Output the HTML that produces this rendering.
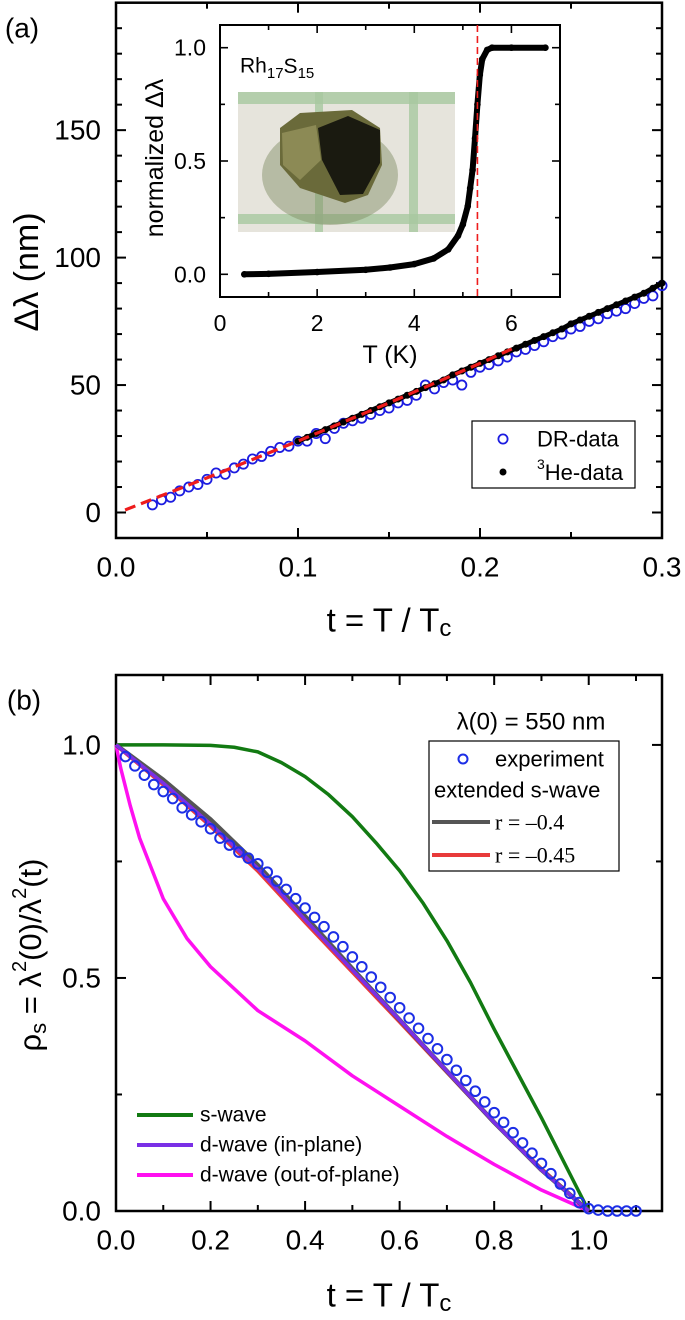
<!DOCTYPE html>
<html><head><meta charset="utf-8"><style>
html,body{margin:0;padding:0;background:#fff}
svg{display:block;font-family:"Liberation Sans",sans-serif}
</style></head><body>
<svg id="fig" width="685" height="1320" viewBox="0 0 685 1320" xmlns="http://www.w3.org/2000/svg">
<g id="pa"></g>
<g id="pb"></g>
</svg>
<script>
// ---------- Panel (a) data ----------
const drT = [0.020,0.025,0.030,0.035,0.040,0.045,0.050,0.055,0.060,0.065,0.070,0.075,0.080,0.085,0.090,0.095,0.100,0.105,0.110,0.115,0.120,0.125,0.130,0.135,0.140,0.145,0.150,0.155,0.160,0.165,0.170,0.175,0.180,0.185,0.190,0.195,0.200,0.205,0.210,0.215,0.220,0.225,0.230,0.235,0.240,0.245,0.250,0.255,0.260,0.265,0.270,0.275,0.280,0.285,0.290,0.295,0.300];
const drVal = [3,5,6,8.5,10,11,13,15.5,15,17.5,19,21,22,24,25.5,26,28,28,31,29,33,35,36,37,38.5,40,41,43,44,46,50,48.5,51,52,50,55,57,58,59.5,61,63,64,65.5,67,69,70,72,73,75,76,78,79,80,82,84,85,89];
const heT = [0.100,0.105,0.110,0.115,0.120,0.125,0.130,0.135,0.140,0.145,0.150,0.155,0.160,0.165,0.170,0.175,0.180,0.185,0.190,0.195,0.200,0.205,0.210,0.215,0.220,0.225,0.230,0.235,0.240,0.245,0.250,0.255,0.260,0.265,0.270,0.275,0.280,0.285,0.290,0.295,0.300];
const heVal = [28,29.5,31,32.5,34,35.5,37,38.5,40,41.5,43,44.5,46,47.5,49,50.5,52,54,55.5,57,58.5,60,61.5,63,64.5,66,67.5,69,70.5,72,74,75.5,77,78.5,80,81.5,83,84.5,86,88,90];
const fitT = [0.005,0.05,0.1,0.15,0.2,0.22];
const fitVal = [1,13.6,28,43,58.5,65];
const aYTicks = [0,50,100,150];
const aXTicks = [0.0,0.1,0.2,0.3];
const aXTickLabels = ["0.0","0.1","0.2","0.3"];
// inset
const insT = [0.5,1,2,3,3.5,4,4.4,4.7,4.9,5.0,5.1,5.15,5.2,5.25,5.3,5.35,5.4,5.5,5.6,6,6.7];
const insVal = [0,0.002,0.01,0.02,0.03,0.045,0.07,0.11,0.17,0.22,0.3,0.38,0.46,0.6,0.75,0.88,0.95,0.99,1,1,1];
const insTc = 5.3;
const insXTicks = [0,2,4,6];
const insYTicks = [0.0,0.5,1.0];
const insYTickLabels = ["0.0","0.5","1.0"];
// ---------- Panel (b) data ----------
const sT = [0,0.1,0.2,0.25,0.3,0.35,0.4,0.45,0.5,0.55,0.6,0.65,0.7,0.75,0.8,0.85,0.9,0.95,1.0];
const sVal = [1,1,0.999,0.995,0.985,0.962,0.932,0.893,0.846,0.79,0.73,0.66,0.58,0.49,0.39,0.295,0.2,0.1,0];
const dT = [0,0.1,0.2,0.3,0.4,0.5,0.6,0.7,0.8,0.9,1.0];
const dInVal = [1,0.918,0.83,0.735,0.625,0.517,0.41,0.30,0.19,0.088,0];
const extGrayVal = [1,0.925,0.84,0.742,0.632,0.52,0.41,0.30,0.19,0.088,0];
const extRedVal = [1,0.915,0.826,0.73,0.62,0.513,0.406,0.298,0.19,0.09,0];
const pT = [0,0.01,0.03,0.05,0.1,0.15,0.2,0.3,0.4,0.5,0.6,0.7,0.8,0.9,1.0];
const pVal = [1,0.95,0.87,0.8,0.67,0.585,0.524,0.43,0.365,0.29,0.225,0.16,0.1,0.045,0];
const expT = [0.02,0.04,0.06,0.08,0.1,0.12,0.14,0.16,0.18,0.2,0.22,0.24,0.26,0.28,0.3,0.32,0.34,0.36,0.38,0.4,0.42,0.44,0.46,0.48,0.5,0.52,0.54,0.56,0.58,0.6,0.62,0.64,0.66,0.68,0.7,0.72,0.74,0.76,0.78,0.8,0.82,0.84,0.86,0.88,0.9,0.92,0.94,0.96,0.98,1.0,1.02,1.04,1.06,1.08,1.1];
const expVal = [0.975,0.955,0.935,0.915,0.9,0.885,0.865,0.85,0.835,0.82,0.8,0.785,0.77,0.757,0.745,0.727,0.708,0.69,0.67,0.65,0.63,0.61,0.588,0.567,0.545,0.524,0.502,0.48,0.458,0.436,0.414,0.392,0.37,0.348,0.325,0.302,0.28,0.257,0.234,0.211,0.19,0.168,0.146,0.124,0.102,0.08,0.058,0.038,0.018,0.005,0.002,0,0,0,0];
const bXTicks = [0,0.2,0.4,0.6,0.8,1.0];
const bXTickLabels = ["0.0","0.2","0.4","0.6","0.8","1.0"];
const bYTicks = [0,0.5,1.0];
const bYTickLabels = ["0.0","0.5","1.0"];

const NS = "http://www.w3.org/2000/svg";
function mk(tag, attrs, parent){const e=document.createElementNS(NS,tag);for(const k in attrs)e.setAttribute(k,attrs[k]);parent.appendChild(e);return e;}
function txt(parent, x, y, s, size, anchor, extra){const t=mk('text',Object.assign({x:x,y:y,'font-size':size,'text-anchor':anchor||'start','dominant-baseline':'central',fill:'#000'},extra||{}),parent);t.textContent=s;return t;}

// ===== Panel A =====
const pa=document.getElementById('pa');
const aL=116,aR=662,aT=2.7,aB=538;
const axX=v=>aL+(v-0)/(0.3-0)*(aR-aL);
const axY=v=>aB-(v-(-10))/(200-(-10))*(aB-aT);
let e;
e=mk('rect',{x:aL,y:aT,width:aR-aL,height:aB-aT,fill:'none',stroke:'#000','stroke-width':2.5},pa);


for(let v=-10;v<=200;v+=10){const major=v%50===0;const len=major?10:6;
 e=mk('line',{x1:aL,x2:aL+len,y1:axY(v),y2:axY(v),stroke:'#000','stroke-width':2},pa);
 
 
 e=mk('line',{x1:aR,x2:aR-len,y1:axY(v),y2:axY(v),stroke:'#000','stroke-width':2},pa);
 
 }
aYTicks.forEach(v=>{e=txt(pa,101,axY(v),String(v),28,'end');
 
 });
for(let i=0;i<=6;i++){const v=i*0.05;const len=i%2===0?10:6;
 e=mk('line',{x1:axX(v),x2:axX(v),y1:aB,y2:aB-len,stroke:'#000','stroke-width':2},pa);
 
 
 e=mk('line',{x1:axX(v),x2:axX(v),y1:aT,y2:aT+len,stroke:'#000','stroke-width':2},pa);
 
 }
aXTicks.forEach((v,i)=>{e=txt(pa,axX(v),567,aXTickLabels[i],28,'middle');
 
 });
e=txt(pa,22,28,'(a)',28,'middle');


e=mk('text',{x:0,y:0,'font-size':34,'text-anchor':'middle','dominant-baseline':'central',transform:'translate(27,272) rotate(-90)'},pa);
e.textContent='Δλ (nm)';


e=mk('text',{x:389,y:620,'font-size':33,'text-anchor':'middle','dominant-baseline':'central'},pa);
e.innerHTML='t = T / T<tspan font-size="24" dy="8">c</tspan>';


drT.forEach((t,i)=>{e=mk('circle',{cx:axX(t),cy:axY(drVal[i]),r:4.6,fill:'none',stroke:'#1c1ce0','stroke-width':1.8},pa);
 
 });
e=mk('polyline',{points:heT.map((t,i)=>axX(t)+','+axY(heVal[i])).join(' '),fill:'none',stroke:'#000','stroke-width':5},pa);


heT.forEach((t,i)=>{e=mk('circle',{cx:axX(t),cy:axY(heVal[i]),r:3.5,fill:'#000'},pa);
 
 });
e=mk('polyline',{points:fitT.map((t,i)=>axX(t)+','+axY(fitVal[i])).join(' '),fill:'none',stroke:'#ee1c1c','stroke-width':3.2,'stroke-dasharray':'11 6'},pa);


e=mk('rect',{x:472,y:421,width:163,height:67,fill:'#fff',stroke:'#000','stroke-width':1.2},pa);


e=mk('circle',{cx:503,cy:439,r:4.6,fill:'none',stroke:'#1c1ce0','stroke-width':1.8},pa);


e=txt(pa,537,439,'DR-data',22,'start');


e=mk('circle',{cx:503,cy:472,r:3.5,fill:'#000'},pa);


e=mk('text',{x:537,y:472,'font-size':22,'dominant-baseline':'central'},pa);
e.innerHTML='<tspan font-size="14" dy="-8">3</tspan><tspan dy="8">He-data</tspan>';



// ----- inset -----
const iL=220,iR=560,iT=25,iB=297;
const ix=v=>iL+v/7*(iR-iL);
const iy=v=>274.3-v*(274.3-47.7);
e=mk('rect',{x:iL,y:iT,width:iR-iL,height:iB-iT,fill:'#fff',stroke:'#000','stroke-width':2},pa);


for(let v=0;v<=7;v+=1){const len=v%2===0?8:5;
 e=mk('line',{x1:ix(v),x2:ix(v),y1:iB,y2:iB-len,stroke:'#000','stroke-width':1.6},pa);
 
 
 e=mk('line',{x1:ix(v),x2:ix(v),y1:iT,y2:iT+len,stroke:'#000','stroke-width':1.6},pa);
 
 }
for(let k=0;k<=4;k++){const v=k*0.25;const len=k%2===0?8:5;
 e=mk('line',{x1:iL,x2:iL+len,y1:iy(v),y2:iy(v),stroke:'#000','stroke-width':1.6},pa);
 
 
 e=mk('line',{x1:iR,x2:iR-len,y1:iy(v),y2:iy(v),stroke:'#000','stroke-width':1.6},pa);
 
 }
insXTicks.forEach(v=>{e=txt(pa,ix(v),323,String(v),23,'middle');
 
 });
insYTicks.forEach((v,i)=>{e=txt(pa,206,iy(v),insYTickLabels[i],23,'end');
 
 });
e=txt(pa,390,355,'T (K)',25,'middle');


e=mk('text',{x:0,y:0,'font-size':25,'text-anchor':'middle','dominant-baseline':'central',transform:'translate(155,158) rotate(-90)'},pa);
e.textContent='normalized Δλ';


e=mk('text',{x:240,y:66,'font-size':21,'dominant-baseline':'central'},pa);
e.innerHTML='Rh<tspan font-size="15" dy="7">17</tspan><tspan dy="-7">S</tspan><tspan font-size="15" dy="7">15</tspan>';


const ph=mk('g',{},pa);


mk('rect',{x:238,y:92,width:217,height:140,fill:'#e6e4dc'},ph);
mk('rect',{x:238,y:92,width:217,height:12,fill:'#a8c8a0',opacity:0.8},ph);
mk('rect',{x:238,y:214,width:217,height:10,fill:'#a8c8a0',opacity:0.8},ph);
mk('rect',{x:315,y:92,width:8,height:140,fill:'#a8c8a0',opacity:0.8},ph);
mk('rect',{x:409,y:92,width:9,height:140,fill:'#a8c8a0',opacity:0.8},ph);
mk('ellipse',{cx:330,cy:175,rx:68,ry:50,fill:'#7d8a60',opacity:0.45},ph);
mk('polygon',{points:'280,128 300,113 352,110 380,128 382,165 368,195 345,203 300,188 280,165',fill:'#6a6a3a'},ph);
mk('polygon',{points:'318,128 348,116 380,130 380,163 363,194 340,195 322,160',fill:'#1a1a10'},ph);
mk('polygon',{points:'282,133 316,125 321,160 300,180 283,165',fill:'#8c8a55'},ph);
e=mk('polyline',{points:insT.map((t,i)=>ix(t)+','+iy(insVal[i])).join(' '),fill:'none',stroke:'#000','stroke-width':6,'stroke-linecap':'round','stroke-linejoin':'round'},pa);


insT.forEach((t,i)=>{e=mk('circle',{cx:ix(t),cy:iy(insVal[i]),r:3.3,fill:'#000'},pa);
 
 });
e=mk('line',{x1:ix(insTc),x2:ix(insTc),y1:iT,y2:iB,stroke:'#ee1c1c','stroke-width':1.6,'stroke-dasharray':'7 4'},pa);



// ===== Panel B =====
const pb=document.getElementById('pb');
const bL=116,bR=662,bT=675,bB=1211;
const bx=v=>bL+v/1.155*(bR-bL);
const by=v=>bB-v/1.15*(bB-bT);
e=mk('rect',{x:bL,y:bT,width:bR-bL,height:bB-bT,fill:'none',stroke:'#000','stroke-width':2.5},pb);


for(let k=0;k<=11;k++){const v=k*0.1;const len=k%2===0?10:6;
 e=mk('line',{x1:bx(v),x2:bx(v),y1:bB,y2:bB-len,stroke:'#000','stroke-width':2},pb);
 
 
 e=mk('line',{x1:bx(v),x2:bx(v),y1:bT,y2:bT+len,stroke:'#000','stroke-width':2},pb);
 
 }
for(let k=0;k<=4;k++){const v=k*0.25;const len=k%2===0?10:6;
 e=mk('line',{x1:bL,x2:bL+len,y1:by(v),y2:by(v),stroke:'#000','stroke-width':2},pb);
 
 
 e=mk('line',{x1:bR,x2:bR-len,y1:by(v),y2:by(v),stroke:'#000','stroke-width':2},pb);
 
 }
bXTicks.forEach((v,i)=>{e=txt(pb,bx(v),1240,bXTickLabels[i],28,'middle');
 
 });
bYTicks.forEach((v,i)=>{e=txt(pb,101,by(v),bYTickLabels[i],28,'end');
 
 });
e=txt(pb,24,700,'(b)',28,'middle');


e=mk('text',{x:0,y:0,'font-size':31,'text-anchor':'middle','dominant-baseline':'central',transform:'translate(30,955) rotate(-90)'},pb);
e.innerHTML='ρ<tspan font-size="22" dy="8">s</tspan><tspan dy="-8"> = λ</tspan><tspan font-size="20" dy="-10">2</tspan><tspan dy="10">(0)/λ</tspan><tspan font-size="20" dy="-10">2</tspan><tspan dy="10">(t)</tspan>';


e=mk('text',{x:389,y:1295,'font-size':33,'text-anchor':'middle','dominant-baseline':'central'},pb);
e.innerHTML='t = T / T<tspan font-size="24" dy="8">c</tspan>';


function curve(ts,vs,color,w){return mk('polyline',{points:ts.map((t,i)=>bx(t)+','+by(vs[i])).join(' '),fill:'none',stroke:color,'stroke-width':w,'stroke-linejoin':'round'},pb);}
e=curve(pT,pVal,'#ff10f0',3.5);


e=curve(sT,sVal,'#127a12',3.5);


e=curve(dT,extRedVal,'#e83a3a',4);


e=curve(dT,extGrayVal,'#555555',4.5);


e=curve(dT,dInVal,'#7a2fe6',3.5);


expT.forEach((t,i)=>{e=mk('circle',{cx:bx(t),cy:by(expVal[i]),r:4.8,fill:'none',stroke:'#1c2ee6','stroke-width':2},pb);
 
 });
e=txt(pb,531,722,'λ(0) = 550 nm',24,'middle');


e=mk('rect',{x:429,y:741,width:190,height:130,fill:'#fff',stroke:'#000','stroke-width':1.2},pb);


e=mk('circle',{cx:463,cy:759,r:4.5,fill:'none',stroke:'#1c2ee6','stroke-width':2},pb);


e=txt(pb,495,759,'experiment',22,'start');


e=txt(pb,434,790,'extended s-wave',22,'start');


e=mk('line',{x1:432,x2:490,y1:822,y2:822,stroke:'#555','stroke-width':4},pb);


e=txt(pb,495,822,'r = –0.4',22,'start',{'font-family':'Liberation Serif, serif'});


e=mk('line',{x1:432,x2:490,y1:855,y2:855,stroke:'#e83a3a','stroke-width':4},pb);


e=txt(pb,495,855,'r = –0.45',22,'start',{'font-family':'Liberation Serif, serif'});


[['s-wave','#127a12',1115,'legend-entry-s-wave'],['d-wave (in-plane)','#7a2fe6',1145,'legend-entry-d-wave-in-plane'],['d-wave (out-of-plane)','#ff10f0',1175,'legend-entry-d-wave-out-of-plane']].forEach(r=>{
 e=mk('line',{x1:137,x2:193,y1:r[2],y2:r[2],stroke:r[1],'stroke-width':4},pb);
 
 
 e=txt(pb,200,r[2],r[0],21,'start');
 
 
});
</script>
</body></html>
